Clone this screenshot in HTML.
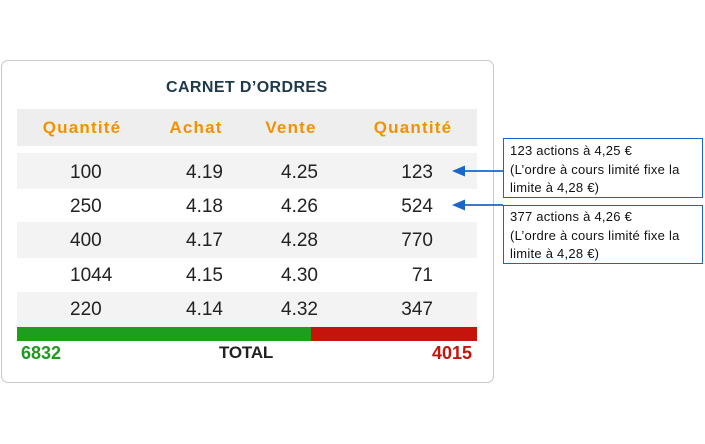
<!DOCTYPE html>
<html><head><meta charset="utf-8"><style>
html,body{margin:0;padding:0;background:#fff;}
body{width:705px;height:444px;position:relative;overflow:hidden;font-family:"Liberation Sans",sans-serif;}
.a{position:absolute;white-space:nowrap;}
.card{position:absolute;left:1px;top:60px;width:491px;height:321px;border:1.6px solid #c9c9c9;border-radius:7px;box-sizing:content-box;}
.band{position:absolute;left:17px;width:460px;}
.h{font-weight:bold;color:#f39200;font-size:17px;letter-spacing:1.2px;height:20px;line-height:20px;}
.n{font-size:19px;color:#222;height:22px;line-height:22px;}
.box{position:absolute;left:503px;width:200px;border:1.5px solid #1a66c8;box-sizing:border-box;font-size:13px;color:#111;line-height:18.5px;padding:3px 0 0 6px;letter-spacing:0.25px;}
</style></head><body>
<div class="card"></div>
<div class="a" style="left:166px;top:77.5px;height:20px;line-height:20px;font-size:16px;font-weight:bold;color:#1d3a4d;letter-spacing:0.4px;">CARNET D’ORDRES</div>

<div class="band" style="top:109px;height:37px;background:#eeeeee;"></div>
<div class="a h" style="left:41px;top:117.5px;width:82px;text-align:center;">Quantité</div>
<div class="a h" style="left:165px;top:117.5px;width:62px;text-align:center;">Achat</div>
<div class="a h" style="left:260px;top:117.5px;width:62px;text-align:center;">Vente</div>
<div class="a h" style="left:372px;top:117.5px;width:82px;text-align:center;">Quantité</div>

<div class="band" style="top:153px;height:36px;background:#f3f3f3;"></div>
<div class="band" style="top:222px;height:36px;background:#f3f3f3;"></div>
<div class="band" style="top:292px;height:35px;background:#f3f3f3;"></div>

<div class="a n" style="left:70px;top:161.5px;">100</div>
<div class="a n" style="left:186px;top:161.5px;">4.19</div>
<div class="a n" style="right:387px;top:161.5px;">4.25</div>
<div class="a n" style="right:272px;top:161.5px;">123</div>

<div class="a n" style="left:70px;top:195.7px;">250</div>
<div class="a n" style="left:186px;top:195.7px;">4.18</div>
<div class="a n" style="right:387px;top:195.7px;">4.26</div>
<div class="a n" style="right:272px;top:195.7px;">524</div>

<div class="a n" style="left:70px;top:230px;">400</div>
<div class="a n" style="left:186px;top:230px;">4.17</div>
<div class="a n" style="right:387px;top:230px;">4.28</div>
<div class="a n" style="right:272px;top:230px;">770</div>

<div class="a n" style="left:70px;top:264.5px;">1044</div>
<div class="a n" style="left:186px;top:264.5px;">4.15</div>
<div class="a n" style="right:387px;top:264.5px;">4.30</div>
<div class="a n" style="right:272px;top:264.5px;">71</div>

<div class="a n" style="left:70px;top:299px;">220</div>
<div class="a n" style="left:186px;top:299px;">4.14</div>
<div class="a n" style="right:387px;top:299px;">4.32</div>
<div class="a n" style="right:272px;top:299px;">347</div>

<div class="a" style="left:17px;top:327px;width:294px;height:14px;background:#1e9e1e;"></div>
<div class="a" style="left:311px;top:327px;width:166px;height:14px;background:#c5140c;"></div>

<div class="a" style="left:21px;top:342.5px;height:20px;line-height:20px;font-size:18px;font-weight:bold;color:#1e9a1e;">6832</div>
<div class="a" style="left:219px;top:343px;height:20px;line-height:20px;font-size:17px;font-weight:bold;color:#222;letter-spacing:-0.2px;">TOTAL</div>
<div class="a" style="right:233px;top:342.5px;height:20px;line-height:20px;font-size:18px;font-weight:bold;color:#c5140c;">4015</div>

<div class="box" style="top:138px;height:60px;">123 actions à 4,25 €<br>(L’ordre à cours limité fixe la<br>limite à 4,28 €)</div>
<div class="box" style="top:205px;height:59px;padding-top:2px;">377 actions à 4,26 €<br>(L’ordre à cours limité fixe la<br>limite à 4,28 €)</div>

<svg class="a" style="left:0;top:0;" width="705" height="444">
<line x1="463" y1="171" x2="503" y2="171" stroke="#1a66c8" stroke-width="1.8"/>
<polygon points="452,171 465,165.5 465,176.5" fill="#1a66c8"/>
<line x1="463" y1="205" x2="503" y2="205" stroke="#1a66c8" stroke-width="1.8"/>
<polygon points="452,205 465,199.5 465,210.5" fill="#1a66c8"/>
</svg>
</body></html>
